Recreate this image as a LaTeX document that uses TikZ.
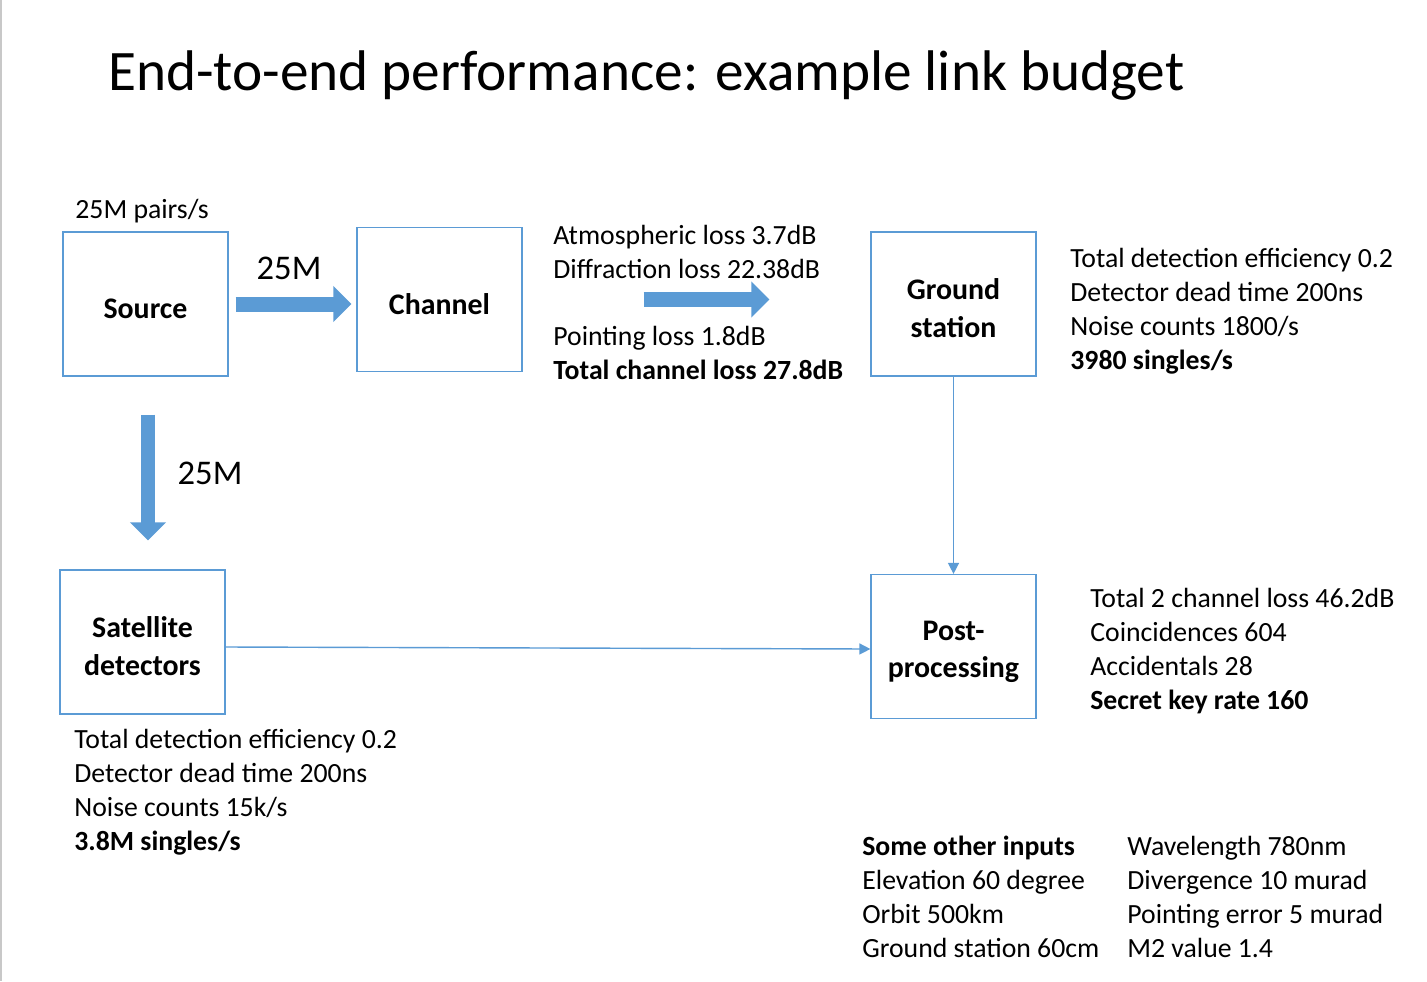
\documentclass[tikz,border=0pt]{standalone}
\usepackage{fontspec}
\setmainfont{Carlito}
\usetikzlibrary{arrows.meta,positioning}
\definecolor{slideblue}{RGB}{91,155,213}
\definecolor{edgegrey}{RGB}{200,200,200}
\newcommand{\boxstrut}{\rule{0pt}{17pt}}

\begin{document}
\begin{tikzpicture}[x=0.02cm, y=-0.02cm,
    box/.style={rectangle, draw=slideblue, line width=0.7pt, minimum width=3.3cm, minimum height=2.88cm,
                font=\fontsize{17}{21.5}\selectfont\bfseries, align=center, inner sep=0pt},
    info/.style={anchor=north west, align=left, inner sep=0pt, font=\fontsize{15.8}{19.3}\selectfont},
    fat/.style={slideblue, line width=0.3cm, -{Triangle[width=0.7cm, length=0.36cm]}},
    thin/.style={slideblue, line width=0.8pt, -{Triangle[width=0.22cm, length=0.22cm]}},
    big/.style={font=\fontsize{19.7}{24}\selectfont}]
\useasboundingbox (0,0) rectangle (1427,981);
% slide edge
\draw[edgegrey, line width=1.2pt] (1,0) -- (1,981);
% title
\node[anchor=base west, inner sep=0pt, font=\fontsize{32.6}{40}\selectfont] (title) at (108,90)
  {End-to-end performance: example link budget};
% boxes
\node[box] (src)  at (145.5,304)   {\boxstrut Source};
\node[box] (chan) at (439.5,299.5) {\boxstrut Channel};
\node[box] (gnd)  at (953.5,304)   {\boxstrut Ground\\station};
\node[box] (sat)  at (142.5,642)   {\boxstrut Satellite\\detectors};
\node[box] (post) at (953.5,646.5) {\boxstrut Post-\\processing};
% block arrows
\draw[fat, shorten <=0.14cm, shorten >=0.1cm] (src.east) -- (src.east -| chan.west);
\draw[fat, shorten <=2.42cm, shorten >=2.02cm] (chan.east) -- (chan.east -| gnd.west);
\draw[fat, shorten <=0.76cm, shorten >=0.58cm] ([xshift=0.05cm]src.south) -- ([xshift=0.05cm]src.south |- sat.north);
\node[big] (rateA) at (289,268) {25M};
\node[big] (rateB) at (210,473) {25M};
% thin links into post-processing
\draw[thin] (gnd.south) -- (post.north);
\draw[thin] ([yshift=-0.1cm]sat.east) -- ([yshift=-0.05cm]post.west);
% text blocks
\node[info] (srcinfo) at (75,199) {25M pairs/s};
\node[info] (chaninfo) at (553,225) {Atmospheric loss 3.7dB\\ Diffraction loss 22.38dB\\[0.66cm]
  Pointing loss 1.8dB\\ \textbf{Total channel loss 27.8dB}};
\node[info] (gndinfo) at (1070,248) {Total detection efficiency 0.2\\ Detector dead time 200ns\\
  Noise counts 1800/s\\ \textbf{3980 singles/s}};
\node[info] (postinfo) at (1090,588) {Total 2 channel loss 46.2dB\\ Coincidences 604\\
  Accidentals 28\\ \textbf{Secret key rate 160}};
\node[info] (satinfo) at (74,729) {Total detection efficiency 0.2\\ Detector dead time 200ns\\
  Noise counts 15k/s\\ \textbf{3.8M singles/s}};
\node[info] (otherA) at (862,836) {\textbf{Some other inputs}\\ Elevation 60 degree\\
  Orbit 500km\\ Ground station 60cm};
\node[info] (otherB) at (1127,836) {Wavelength 780nm\\ Divergence 10 murad\\
  Pointing error 5 murad\\ M2 value 1.4};
\end{tikzpicture}
\end{document}
